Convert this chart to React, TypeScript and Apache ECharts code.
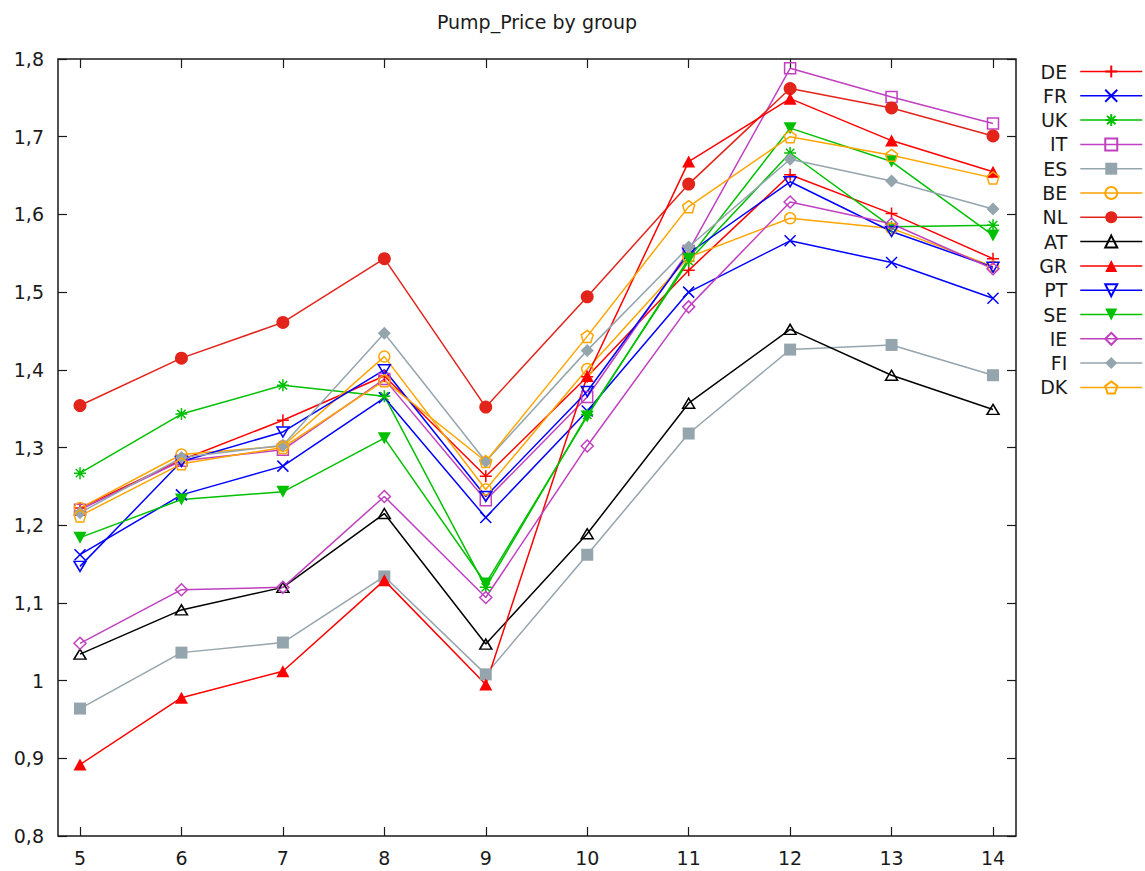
import React, { useEffect, useRef } from "react";
import * as echarts from "echarts";

// Month index on the horizontal axis
const periods = ["5", "6", "7", "8", "9", "10", "11", "12", "13", "14"];

// Pump price per country
const DE = [1.222, 1.284, 1.335, 1.392, 1.263, 1.391, 1.528, 1.651, 1.601, 1.543];
const FR = [1.162, 1.239, 1.276, 1.364, 1.21, 1.347, 1.5, 1.566, 1.538, 1.492];
const UK = [1.267, 1.343, 1.38, 1.366, 1.12, 1.342, 1.54, 1.679, 1.584, 1.586];
const IT = [1.22, 1.283, 1.297, 1.388, 1.232, 1.365, 1.553, 1.788, 1.751, 1.717];
const ES = [0.964, 1.036, 1.049, 1.134, 1.008, 1.162, 1.318, 1.426, 1.432, 1.393];
const BE = [1.222, 1.291, 1.302, 1.417, 1.246, 1.401, 1.545, 1.595, 1.582, 1.533];
const NL = [1.354, 1.415, 1.461, 1.543, 1.352, 1.494, 1.639, 1.762, 1.737, 1.701];
const AT = [1.034, 1.091, 1.12, 1.215, 1.047, 1.189, 1.357, 1.452, 1.393, 1.349];
const GR = [0.892, 0.978, 1.012, 1.129, 0.995, 1.392, 1.668, 1.749, 1.695, 1.655];
const PT = [1.147, 1.282, 1.32, 1.4, 1.237, 1.372, 1.55, 1.642, 1.578, 1.532];
const SE = [1.184, 1.233, 1.243, 1.312, 1.125, 1.34, 1.543, 1.711, 1.668, 1.573];
const IE = [1.048, 1.117, 1.12, 1.237, 1.107, 1.302, 1.481, 1.616, 1.588, 1.53];
const FI = [1.216, 1.287, 1.303, 1.447, 1.282, 1.425, 1.558, 1.671, 1.643, 1.607];
const DK = [1.212, 1.279, 1.3, 1.386, 1.282, 1.443, 1.61, 1.7, 1.676, 1.647];

// Y axis range and step
const yMin = 0.8;
const yMax = 1.8;
const yStep = 0.1;

// Point marker shapes
const PLUS = "path://M6 0L6 12M0 6L12 6";
const CROSS = "path://M0 0L12 12M12 0L0 12";
const STAR = "path://M6 0L6 12M0 6L12 6M1.8 1.8L10.2 10.2M10.2 1.8L1.8 10.2";
const SQUARE = "path://M0 0L12 0L12 12L0 12Z";
const CIRCLE = "path://M6 0A6 6 0 1 1 6 12A6 6 0 1 1 6 0Z";
const TRI_UP = "path://M6 0L12 10.4L0 10.4Z";
const TRI_DOWN = "path://M0 0L12 0L6 10.4Z";
const DIAMOND = "path://M6 0L12 6L6 12L0 6Z";
const PENTAGON = "path://M6 0L11.7 4.1L9.5 10.9L2.5 10.9L0.3 4.1Z";

const RED = "#ff0000";
const BLUE = "#0000ff";
const GREEN = "#00c000";
const MAGENTA = "#c040c0";
const GREY = "#95a5ad";
const ORANGE = "#ffa500";
const DARKRED = "#e3241b";
const BLACK = "#000000";

type Mark = { symbol: string; size: number | number[]; filled: boolean };

const groups: { name: string; data: number[]; color: string; mark: Mark }[] = [
  { name: "DE", data: DE, color: RED, mark: { symbol: PLUS, size: 12, filled: false } },
  { name: "FR", data: FR, color: BLUE, mark: { symbol: CROSS, size: 11, filled: false } },
  { name: "UK", data: UK, color: GREEN, mark: { symbol: STAR, size: 12, filled: false } },
  { name: "IT", data: IT, color: MAGENTA, mark: { symbol: SQUARE, size: 11, filled: false } },
  { name: "ES", data: ES, color: GREY, mark: { symbol: "rect", size: 12, filled: true } },
  { name: "BE", data: BE, color: ORANGE, mark: { symbol: CIRCLE, size: 11, filled: false } },
  { name: "NL", data: NL, color: DARKRED, mark: { symbol: "circle", size: 13, filled: true } },
  { name: "AT", data: AT, color: BLACK, mark: { symbol: TRI_UP, size: [12, 10], filled: false } },
  { name: "GR", data: GR, color: RED, mark: { symbol: "triangle", size: [13, 12], filled: true } },
  { name: "PT", data: PT, color: BLUE, mark: { symbol: TRI_DOWN, size: [12, 10], filled: false } },
  { name: "SE", data: SE, color: GREEN, mark: { symbol: TRI_DOWN, size: [13, 12], filled: true } },
  { name: "IE", data: IE, color: MAGENTA, mark: { symbol: DIAMOND, size: 12, filled: false } },
  { name: "FI", data: FI, color: GREY, mark: { symbol: "diamond", size: 13, filled: true } },
  { name: "DK", data: DK, color: ORANGE, mark: { symbol: PENTAGON, size: 12, filled: false } },
];

const FONT = "DejaVu Sans, Verdana, sans-serif";
const INK = "#1a1a1a";

function formatTick(v: number): string {
  const s = v.toFixed(1);
  return (s.endsWith(".0") ? s.slice(0, -2) : s).replace(".", ",");
}

export default function App() {
  const ref = useRef<HTMLDivElement>(null);

  useEffect(() => {
    if (!ref.current) return;
    const chart = echarts.init(ref.current, null, { renderer: "svg" });

    const gridLeft = 80;
    const gridRight = 152;
    const gridTop = 59;
    const gridBottom = 35;
    const frameLeft = 58;
    const frameRight = 1016;

    const valueAxis = (position: "left" | "right", offset: number, labels: boolean) => ({
      type: "value",
      position,
      offset,
      min: yMin,
      max: yMax,
      interval: yStep,
      axisLine: { show: false },
      axisTick: { show: true, inside: true, length: 9, lineStyle: { color: INK, width: 1.2 } },
      splitLine: { show: false },
      axisLabel: {
        show: labels,
        margin: 14,
        color: INK,
        fontFamily: FONT,
        fontSize: 19,
        formatter: (v: number) => formatTick(v),
      },
    });

    const catAxis = (position: "bottom" | "top", labels: boolean) => ({
      type: "category",
      position,
      data: periods,
      boundaryGap: false,
      axisLine: { show: false },
      axisTick: {
        show: true,
        inside: true,
        length: 9,
        alignWithLabel: true,
        lineStyle: { color: INK, width: 1.2 },
      },
      splitLine: { show: false },
      axisLabel: {
        show: labels,
        margin: 12,
        color: INK,
        fontFamily: FONT,
        fontSize: 19,
      },
    });

    chart.setOption({
      animation: false,
      backgroundColor: "#ffffff",
      grid: { left: gridLeft, right: gridRight, top: gridTop, bottom: gridBottom, containLabel: false },
      xAxis: [catAxis("bottom", true), catAxis("top", false)],
      yAxis: [
        valueAxis("left", gridLeft - frameLeft, true),
        valueAxis("right", frameRight - (1145 - gridRight), false),
      ],
      legend: {
        orient: "vertical",
        right: 2,
        top: 62,
        padding: 0,
        align: "right",
        itemWidth: 62,
        itemHeight: 15,
        itemGap: 5.3,
        textStyle: {
          color: INK,
          fontFamily: FONT,
          fontSize: 19,
          padding: [0, 8, 0, 0],
        },
        lineStyle: { width: 1.5 },
        data: groups.map((g) => g.name),
      },
      graphic: [
        {
          type: "rect",
          silent: true,
          z: 10,
          shape: { x: frameLeft, y: gridTop, width: frameRight - frameLeft, height: 871 - gridBottom - gridTop },
          style: { fill: "none", stroke: INK, lineWidth: 1.5 },
        },
        {
          type: "text",
          silent: true,
          x: (frameLeft + frameRight) / 2,
          y: 22,
          style: {
            text: "Pump_Price by group",
            fill: INK,
            font: `19px ${FONT}`,
            align: "center",
            verticalAlign: "middle",
          },
        },
      ],
      series: groups.map((g) => ({
        name: g.name,
        type: "line",
        data: g.data,
        symbol: g.mark.symbol,
        symbolSize: g.mark.size,
        showAllSymbol: true,
        lineStyle: { color: g.color, width: 1.5 },
        itemStyle: g.mark.filled
          ? { color: g.color, borderWidth: 0 }
          : { color: "rgba(0,0,0,0)", borderColor: g.color, borderWidth: 1.5 },
        emphasis: { disabled: true },
      })),
    });

    return () => chart.dispose();
  }, []);

  return (
    <div
      ref={ref}
      style={{ position: "fixed", left: 0, top: 0, width: 1145, height: 871, background: "#fff" }}
    />
  );
}
